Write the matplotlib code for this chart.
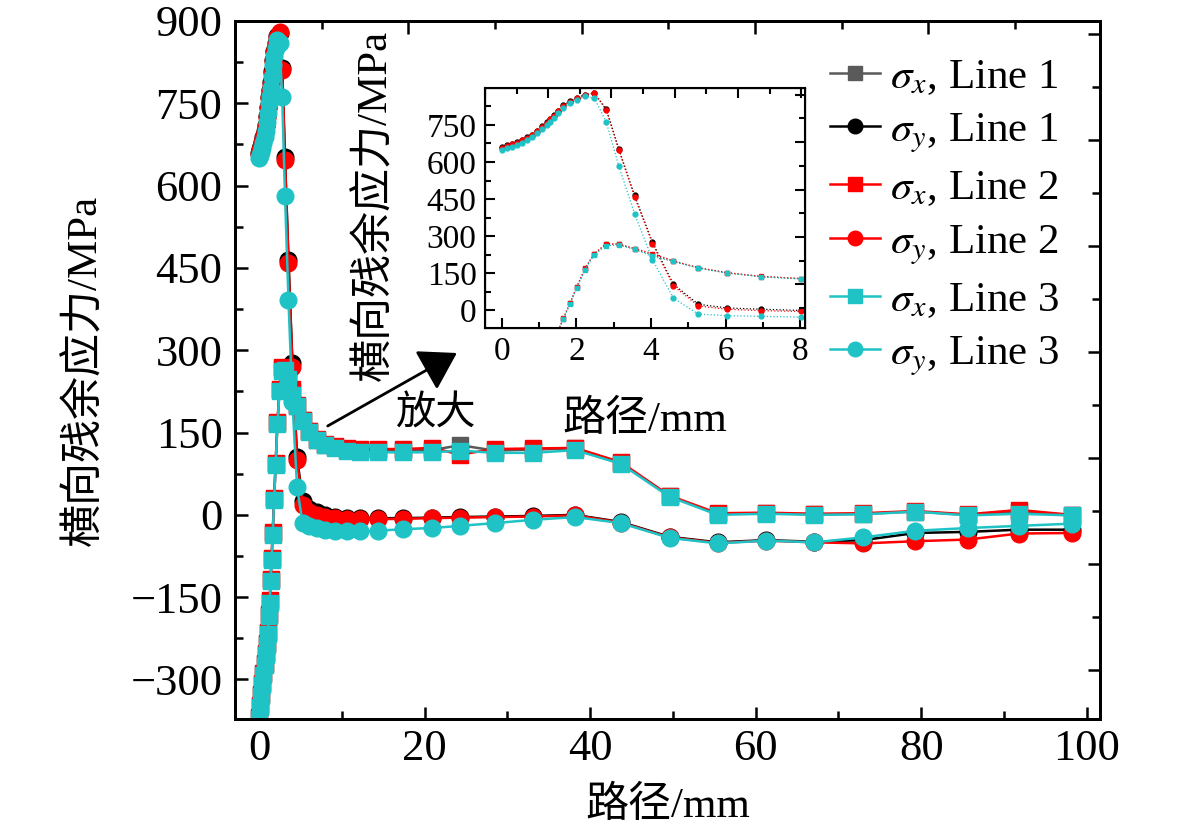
import numpy as np
import matplotlib
matplotlib.use("Agg")
import matplotlib.pyplot as plt
from matplotlib.ticker import MultipleLocator

plt.rcParams['font.family'] = ['Liberation Serif', 'Noto Sans CJK SC']
plt.rcParams['mathtext.fontset'] = 'stix'
plt.rcParams['axes.unicode_minus'] = True

# path along the line (mm), shared by all six series
dist = [0, 0.13, 0.27, 0.40, 0.54, 0.67, 0.80, 0.94, 1.07, 1.21, 1.29, 1.41, 1.52,
        1.65, 1.83, 2.01, 2.23, 2.48, 2.80, 3.14, 3.56, 4.04, 4.60,
        5.27, 6.03, 6.95, 8.02, 9.2, 10.6, 12.2, 14.4, 17.4, 20.9,
        24.3, 28.5, 33.1, 38.2, 43.7, 49.6, 55.4, 61.3, 67.1, 73.0,
        79.3, 85.6, 91.8, 98.2]

# sigma_x (MPa)
sx_line1 = [-370, -348, -328, -308, -290, -272, -254, -236, -216, -183, -158, -118, -80,
            -34, 29, 93, 168, 228, 268, 267, 249, 225, 199,
            172, 152, 137, 128, 123, 119, 118, 118, 118, 118,
            127, 117, 119, 121, 95, 34, 2, 3, 1, 2,
            6, 0, 5, -1]
sx_line2 = [-368, -346, -326, -306, -288, -270, -252, -234, -214, -181, -156, -116, -78,
            -32, 31, 95, 170, 230, 270, 268, 250, 230, 200,
            173, 153, 138, 129, 125, 121, 120, 120, 120, 122,
            110, 120, 121, 122, 96, 35, 3, 4, 2, 3,
            7, 1, 9, 0]
sx_line3 = [-372, -350, -330, -310, -292, -274, -256, -238, -218, -185, -160, -120, -82,
            -36, 27, 91, 165, 225, 262, 264, 247, 218, 198,
            171, 151, 136, 127, 121, 117, 115, 114, 114, 114,
            117, 113, 113, 118, 93, 33, 0, 2, 0, 1,
            6, -1, 2, -1]

# sigma_y (MPa)
sy_line1 = [660, 667, 673, 680, 689, 700, 711, 727, 744, 761, 774, 788, 808,
            829, 846, 859, 872, 878, 815, 652, 465, 276, 106,
            25, 10, 5, 0, -3, -5, -6, -6, -6, -5,
            -4, -3, -2, 0, -13, -40, -50, -46, -49, -46,
            -33, -31, -27, -27]
sy_line2 = [658, 665, 671, 678, 687, 698, 709, 725, 742, 759, 772, 786, 806,
            827, 844, 857, 871, 880, 810, 647, 459, 270, 100,
            18, 5, -1, -4, -6, -7, -8, -8, -7, -6,
            -5, -4, -3, -1, -14, -41, -51, -47, -50, -52,
            -48, -45, -34, -33]
sy_line3 = [650, 656, 662, 669, 678, 689, 700, 716, 733, 750, 763, 778, 798,
            819, 837, 851, 865, 859, 762, 582, 391, 205, 50,
            -15, -21, -24, -27, -29, -30, -30, -29, -26, -24,
            -20, -15, -9, -4, -15, -42, -52, -47, -50, -41,
            -29, -24, -20, -16]

GRAY = '#5a5a5a'
RED = '#ff0000'
CYAN = '#1fc3c6'

series = [
    (sx_line1, GRAY, 's', r'$\sigma_x$, Line 1'),
    (sy_line1, 'black', 'o', r'$\sigma_y$, Line 1'),
    (sx_line2, RED, 's', r'$\sigma_x$, Line 2'),
    (sy_line2, RED, 'o', r'$\sigma_y$, Line 2'),
    (sx_line3, CYAN, 's', r'$\sigma_x$, Line 3'),
    (sy_line3, CYAN, 'o', r'$\sigma_y$, Line 3'),
]

W, H = 1181, 836
fig = plt.figure(figsize=(W / 100, H / 100), dpi=100)

# main axes
ax = fig.add_axes([235 / W, 1 - 719 / H, 865 / W, 698 / H])
for vals, col, mk, lab in series:
    ms = 11 if mk == 's' else 12
    ax.plot(dist, vals, color=col, marker=mk, ms=ms, lw=1.8, label=lab)

ax.set_xlim(-2.9, 101.6)
ax.set_ylim(-372, 900)
ax.xaxis.set_major_locator(MultipleLocator(20))
ax.xaxis.set_minor_locator(MultipleLocator(10))
ax.yaxis.set_major_locator(MultipleLocator(150))
ax.yaxis.set_minor_locator(MultipleLocator(75))
ax.tick_params(which='both', direction='in', width=1.8, labelsize=32)
ax.tick_params(which='major', length=9)
ax.tick_params(which='minor', length=5.5)
ax.tick_params(axis='y', pad=9)
ax.tick_params(axis='x', pad=7)
for sp in ax.spines.values():
    sp.set_linewidth(2)

# top / right ticks use their own spacing, like the original
ax_top = ax.twiny()
ax_top.set_xlim(0, 4.99)
ax_top.xaxis.set_major_locator(MultipleLocator(1))
ax_top.xaxis.set_minor_locator(MultipleLocator(0.5))
ax_top.tick_params(which='both', direction='in', width=1.8, labeltop=False)
ax_top.tick_params(which='major', length=9)
ax_top.tick_params(which='minor', length=5.5)

ax_right = ax.twinx()
ax_right.set_ylim(0.535, 7.12)
ax_right.yaxis.set_major_locator(MultipleLocator(1))
ax_right.yaxis.set_minor_locator(MultipleLocator(0.5))
ax_right.tick_params(which='both', direction='in', width=1.8, labelright=False)
ax_right.tick_params(which='major', length=9)
ax_right.tick_params(which='minor', length=5.5)
for a in (ax_top, ax_right):
    for sp in a.spines.values():
        sp.set_linewidth(2)

ax.annotate('', xy=(23.9, 295), xytext=(8.3, 162),
            arrowprops=dict(arrowstyle='-|>,head_length=0.45,head_width=0.28',
                            color='black', lw=2, mutation_scale=50,
                            shrinkA=0, shrinkB=0))

leg = ax.legend(loc='upper left', bbox_to_anchor=(830 / W, 1 - 58 / H),
                bbox_transform=fig.transFigure, frameon=False, fontsize=31,
                handlelength=1.15, handletextpad=0.25, labelspacing=0.33,
                borderpad=0, borderaxespad=0)
for h in leg.legend_handles:
    h.set_markersize(10.5)

fig.text(668 / W, 1 - 806 / H, '路径/mm', fontsize=31, ha='center', va='center')
fig.text(85 / W, 1 - 370 / H, '横向残余应力/MPa', fontsize=31, rotation=90,
         ha='center', va='center')

# inset
axi = fig.add_axes([485 / W, 1 - 328 / H, 320 / W, 240 / H])
for vals, col, mk, lab in series:
    axi.plot(dist, vals, color=col, marker=mk, ms=3.5, lw=0.9, ls=':')
axi.set_xlim(-0.45, 8.13)
axi.set_ylim(-71, 899)
axi.xaxis.set_major_locator(MultipleLocator(2))
axi.xaxis.set_minor_locator(MultipleLocator(1))
axi.yaxis.set_major_locator(MultipleLocator(150))
axi.yaxis.set_minor_locator(MultipleLocator(75))
axi.tick_params(which='both', direction='in', width=1.5, labelsize=24)
axi.tick_params(which='major', length=7)
axi.tick_params(which='minor', length=4)
axi.tick_params(axis='y', pad=6)
axi.tick_params(axis='x', pad=6)
for sp in axi.spines.values():
    sp.set_linewidth(1.5)

axi_top = axi.twiny()
axi_top.set_xlim(0, 5.06)
axi_top.xaxis.set_major_locator(MultipleLocator(1))
axi_top.xaxis.set_minor_locator(MultipleLocator(0.5))
axi_top.tick_params(which='both', direction='in', width=1.5, labeltop=False)
axi_top.tick_params(which='major', length=7)
axi_top.tick_params(which='minor', length=4)

axi_right = axi.twinx()
axi_right.set_ylim(0.08, 5.14)
axi_right.yaxis.set_major_locator(MultipleLocator(1))
axi_right.yaxis.set_minor_locator(MultipleLocator(0.5))
axi_right.tick_params(which='both', direction='in', width=1.5, labelright=False)
axi_right.tick_params(which='major', length=7)
axi_right.tick_params(which='minor', length=4)

fig.text(375 / W, 1 - 205 / H, '横向残余应力/MPa', fontsize=31, rotation=90,
         ha='center', va='center')
fig.text(645 / W, 1 - 420 / H, '路径/mm', fontsize=31, ha='center', va='center')
fig.text(435 / W, 1 - 415 / H, '放大', fontsize=29, ha='center', va='center')

fig.savefig('out.png', dpi=100)
